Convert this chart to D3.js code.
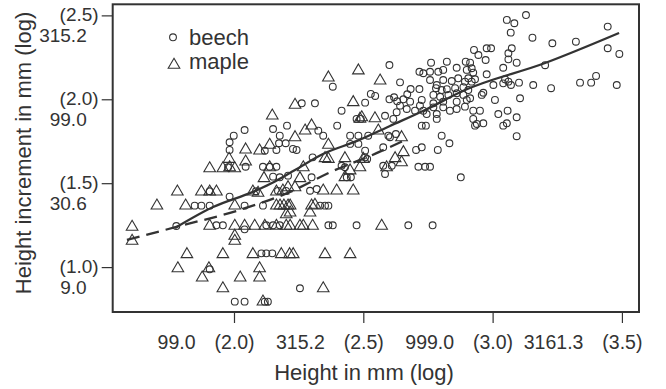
<!DOCTYPE html>
<html><head><meta charset="utf-8">
<script src="https://cdn.jsdelivr.net/npm/d3@7"></script>
<style>
body{margin:0;background:#fff}
svg{display:block}
text{font-family:"Liberation Sans",Arial,Helvetica,sans-serif;fill:#333}
</style>
</head><body>
<svg id="chart" width="666" height="389"></svg>
<script>
// ---- data (log10 scale values) ----
const xTicks = [2.0, 2.5, 3.0, 3.5];
const xTickNumbers = ["99.0", "315.2", "999.0", "3161.3"];
const yTicks = [1.0, 1.5, 2.0, 2.5];
const yTickNumbers = ["9.0", "30.6", "99.0", "315.2"];
const seriesNames = ["beech", "maple"];

const beech = [
[2.601,2.204],[2.382,2.075],[2.642,2.101],[2.529,2.032],[2.546,2.020],[2.683,2.061],[2.717,2.061],[2.601,2.000],
[2.619,2.012],[2.631,1.988],[2.655,2.000],[2.670,2.030],[2.507,1.980],[2.262,1.976],[2.313,1.976],[2.762,2.218],
[2.823,2.224],[2.896,2.224],[2.717,2.164],[2.732,2.155],[2.758,2.164],[2.790,2.164],[2.809,2.175],[2.861,2.188],
[2.900,2.175],[2.758,2.115],[2.784,2.085],[2.809,2.115],[2.842,2.109],[2.867,2.125],[2.893,2.105],[2.781,2.066],
[2.803,2.055],[2.823,2.060],[2.855,2.066],[2.887,2.072],[2.771,2.026],[2.797,2.015],[2.829,2.026],[2.861,2.036],
[2.887,2.026],[2.681,1.986],[2.726,1.996],[2.771,1.976],[2.809,1.986],[2.861,1.986],[2.900,1.996],[3.055,2.473],
[3.084,2.453],[3.129,2.502],[3.070,2.397],[3.154,2.367],[3.231,2.334],[3.322,2.343],[3.445,2.433],[3.445,2.304],
[3.490,2.270],[2.928,2.294],[2.977,2.304],[2.994,2.304],[2.945,2.264],[2.973,2.234],[3.061,2.274],[3.074,2.304],
[2.913,2.218],[2.919,2.185],[3.061,2.238],[3.093,2.218],[3.041,2.188],[3.203,2.203],[2.925,2.159],[2.977,2.149],
[2.906,2.125],[2.919,2.105],[2.932,2.119],[3.048,2.119],[3.061,2.105],[3.003,2.085],[3.041,2.095],[3.071,2.085],
[3.102,2.099],[3.157,2.085],[3.226,2.066],[3.338,2.099],[3.381,2.099],[3.400,2.139],[3.480,2.085],[2.906,2.055],
[2.958,2.026],[2.964,2.039],[2.913,2.006],[3.009,1.996],[3.106,2.006],[2.925,1.932],[2.951,1.932],[2.925,1.883],
[2.939,1.853],[2.964,1.857],[2.932,1.843],[3.022,1.912],[3.058,1.932],[3.093,1.893],[3.041,1.843],[3.055,1.857],
[3.093,1.780],[2.893,1.956],[2.416,1.932],[2.474,1.883],[2.490,1.883],[2.584,1.902],[2.616,1.883],[2.629,1.923],
[2.642,1.962],[2.668,1.942],[2.700,1.932],[2.719,1.962],[2.732,1.932],[2.771,1.952],[2.784,1.912],[2.809,1.952],
[2.835,1.932],[2.861,1.942],[2.745,1.912],[2.726,1.843],[2.742,1.843],[2.784,1.883],[2.326,1.813],[2.345,1.783],
[2.399,1.843],[2.449,1.783],[2.481,1.783],[2.519,1.783],[2.449,1.734],[2.481,1.734],[2.597,1.783],[2.603,1.774],
[2.626,1.793],[2.803,1.783],[2.833,1.738],[2.788,1.698],[2.704,1.698],[2.726,1.714],[2.242,1.698],[2.577,1.714],
[2.577,1.604],[2.610,1.604],[2.584,1.555],[2.713,1.598],[2.739,1.598],[2.758,1.598],[2.877,1.535],[2.304,1.654],
[2.507,1.694],[2.507,1.654],[2.515,1.644],[2.416,1.604],[2.429,1.595],[2.436,1.535],[2.452,1.535],[2.300,1.535],
[2.294,1.455],[2.320,1.465],[2.333,1.366],[2.352,1.366],[2.365,1.366],[2.041,1.817],[1.999,1.783],[1.983,1.744],
[1.983,1.698],[2.151,1.823],[2.205,1.843],[2.177,1.783],[2.200,1.738],[2.164,1.698],[2.119,1.694],[2.174,1.738],
[2.228,1.704],[1.977,1.595],[2.045,1.598],[2.112,1.598],[2.138,1.598],[2.164,1.598],[2.151,1.539],[2.177,1.535],
[2.209,1.545],[1.906,1.452],[1.983,1.420],[2.085,1.452],[2.170,1.454],[2.201,1.454],[1.848,1.366],[1.874,1.366],
[1.906,1.366],[2.041,1.366],[2.112,1.366],[1.777,1.245],[1.932,1.249],[1.957,1.249],[2.125,1.249],[2.151,1.249],
[2.177,1.249],[2.041,1.225],[2.106,1.082],[2.125,1.082],[2.148,1.082],[1.906,0.987],[2.003,0.794],[2.041,0.794],
[2.119,0.794],[2.131,0.794],[2.365,1.249],[2.382,1.249],[2.474,1.249],[2.674,1.249],[2.768,1.249],[2.255,0.874]
];

const maple = [
[2.365,2.139],[2.481,2.181],[2.565,2.121],[2.461,1.992],[2.236,1.976],[2.148,1.912],[2.487,1.893],[2.494,1.902],
[2.545,1.896],[2.300,1.853],[2.275,1.823],[2.236,1.783],[2.365,1.738],[2.558,1.823],[2.648,1.783],[2.655,1.694],
[2.623,1.658],[2.648,1.634],[2.590,1.604],[2.352,1.658],[2.365,1.654],[2.429,1.658],[2.500,1.654],[2.487,1.604],
[2.449,1.585],[2.429,1.545],[2.268,1.604],[2.255,1.539],[2.236,1.485],[2.345,1.465],[2.397,1.465],[2.461,1.465],
[2.313,1.380],[2.300,1.376],[2.217,1.376],[2.045,1.710],[2.099,1.704],[2.138,1.738],[1.981,1.654],[2.045,1.638],
[1.906,1.598],[1.957,1.598],[1.983,1.604],[2.003,1.598],[2.138,1.604],[2.116,1.539],[1.781,1.459],[1.874,1.459],
[1.906,1.459],[1.932,1.459],[2.073,1.459],[2.093,1.452],[2.164,1.459],[2.189,1.465],[2.209,1.485],[1.702,1.376],
[1.813,1.376],[2.003,1.376],[2.164,1.376],[2.178,1.376],[2.193,1.376],[2.209,1.376],[1.606,1.249],[1.606,1.166],
[1.906,1.255],[2.003,1.255],[2.041,1.255],[2.080,1.255],[2.119,1.255],[2.164,1.255],[2.202,1.255],[2.003,1.196],
[2.003,1.166],[2.202,1.324],[1.818,1.086],[1.957,1.086],[2.073,1.086],[2.183,1.086],[2.215,1.086],[1.783,1.002],
[1.903,1.002],[2.099,1.002],[1.877,0.947],[2.024,0.947],[2.099,0.947],[1.957,0.883],[2.112,0.804],[2.217,1.334],
[2.294,1.334],[2.217,1.255],[2.255,1.255],[2.268,1.255],[2.304,1.255],[2.571,1.255],[2.229,1.086],[2.352,1.086],
[2.449,1.086],[2.345,0.883]
];

// smoothed fits
const beechFit = [[1.772,1.233],[1.919,1.358],[2.073,1.448],[2.139,1.495],[2.236,1.579],[2.344,1.674],
  [2.476,1.752],[2.603,1.841],[2.731,1.930],[2.893,2.055],[3.203,2.216],[3.489,2.395]];
const mapleFit = [[1.586,1.162],[1.791,1.245],[2.008,1.334],[2.217,1.448],[2.383,1.573],[2.526,1.662],[2.661,1.757]];

// ---- layout ----
const ink = "#333";
const font = '"Liberation Sans",Arial,sans-serif';
const svg = d3.select("#chart");
const plot = {l:112.7, r:639, t:4.3, b:312};
const x = d3.scaleLinear().domain([1.531, 3.566]).range([plot.l, plot.r]);
const y = d3.scaleLinear().domain([0.7324, 2.566]).range([plot.b, plot.t]);

// x axis: ticks plus two-part labels "value (log)"
const xAxis = svg.append("g").attr("transform", `translate(0,${plot.b})`)
  .call(d3.axisBottom(x).tickValues(xTicks).tickSize(11).tickFormat(""));
xAxis.select(".domain").remove();
xAxis.selectAll(".tick line").attr("stroke", ink).attr("stroke-width", 1.2);
xAxis.selectAll(".tick text").remove();
xAxis.selectAll(".tick").each(function(d, i) {
  const t = d3.select(this).append("text").attr("fill", ink).attr("font-size", 19.5)
    .attr("font-family", font).attr("text-anchor", "end").attr("y", 37);
  t.append("tspan").attr("x", -39).text(xTickNumbers[i]);
  t.append("tspan").attr("x", 20).text(`(${d.toFixed(1)})`);
});

// y axis: ticks plus two-line labels
const yAxis = svg.append("g").attr("transform", `translate(${plot.l},0)`)
  .call(d3.axisLeft(y).tickValues(yTicks).tickSize(11).tickFormat(""));
yAxis.select(".domain").remove();
yAxis.selectAll(".tick line").attr("stroke", ink).attr("stroke-width", 1.2);
yAxis.selectAll(".tick text").remove();
yAxis.selectAll(".tick").each(function(d, i) {
  const g = d3.select(this);
  g.append("text").attr("fill", ink).attr("font-size", 19).attr("font-family", font)
    .attr("text-anchor", "end").attr("x", -14).attr("y", 5).text(`(${d.toFixed(1)})`);
  g.append("text").attr("fill", ink).attr("font-size", 19).attr("font-family", font)
    .attr("text-anchor", "end").attr("x", -26).attr("y", 26).text(yTickNumbers[i]);
});

// axis titles
svg.append("text").attr("x", 364).attr("y", 380).attr("text-anchor", "middle")
  .attr("font-size", 22).text("Height in mm (log)");
svg.append("text").attr("transform", "translate(31,153) rotate(-90)").attr("text-anchor", "middle")
  .attr("font-size", 22).text("Height increment in mm (log)");

// points
const tri = (cx, cy) => `M${cx},${cy - 5}l5.8,10h-11.6z`;
svg.append("g").selectAll("circle").data(beech).join("circle")
  .attr("cx", d => x(d[0])).attr("cy", d => y(d[1])).attr("r", 3.4)
  .attr("fill", "none").attr("stroke", ink).attr("stroke-width", 1.1);
svg.append("g").selectAll("path").data(maple).join("path")
  .attr("d", d => tri(x(d[0]), y(d[1])))
  .attr("fill", "none").attr("stroke", ink).attr("stroke-width", 1.1);

// fitted lines
const line = d3.line().x(d => x(d[0])).y(d => y(d[1])).curve(d3.curveMonotoneX);
svg.append("path").datum(beechFit).attr("d", line).attr("fill", "none")
  .attr("stroke", ink).attr("stroke-width", 2.3);
svg.append("path").datum(mapleFit).attr("d", line).attr("fill", "none")
  .attr("stroke", ink).attr("stroke-width", 2.3).attr("stroke-dasharray", "13,7");

// frame
svg.append("rect").attr("x", plot.l).attr("y", plot.t)
  .attr("width", plot.r - plot.l).attr("height", plot.b - plot.t)
  .attr("fill", "none").attr("stroke", ink).attr("stroke-width", 2);

// legend
const lg = svg.append("g");
lg.append("circle").attr("cx", 173).attr("cy", 37.3).attr("r", 3.4)
  .attr("fill", "none").attr("stroke", ink).attr("stroke-width", 1.1);
lg.append("path").attr("d", tri(174, 63.3)).attr("fill", "none").attr("stroke", ink).attr("stroke-width", 1.1);
lg.append("text").attr("x", 189).attr("y", 45).attr("font-size", 22).text(seriesNames[0]);
lg.append("text").attr("x", 189).attr("y", 68.5).attr("font-size", 22).text(seriesNames[1]);
</script>
</body></html>
